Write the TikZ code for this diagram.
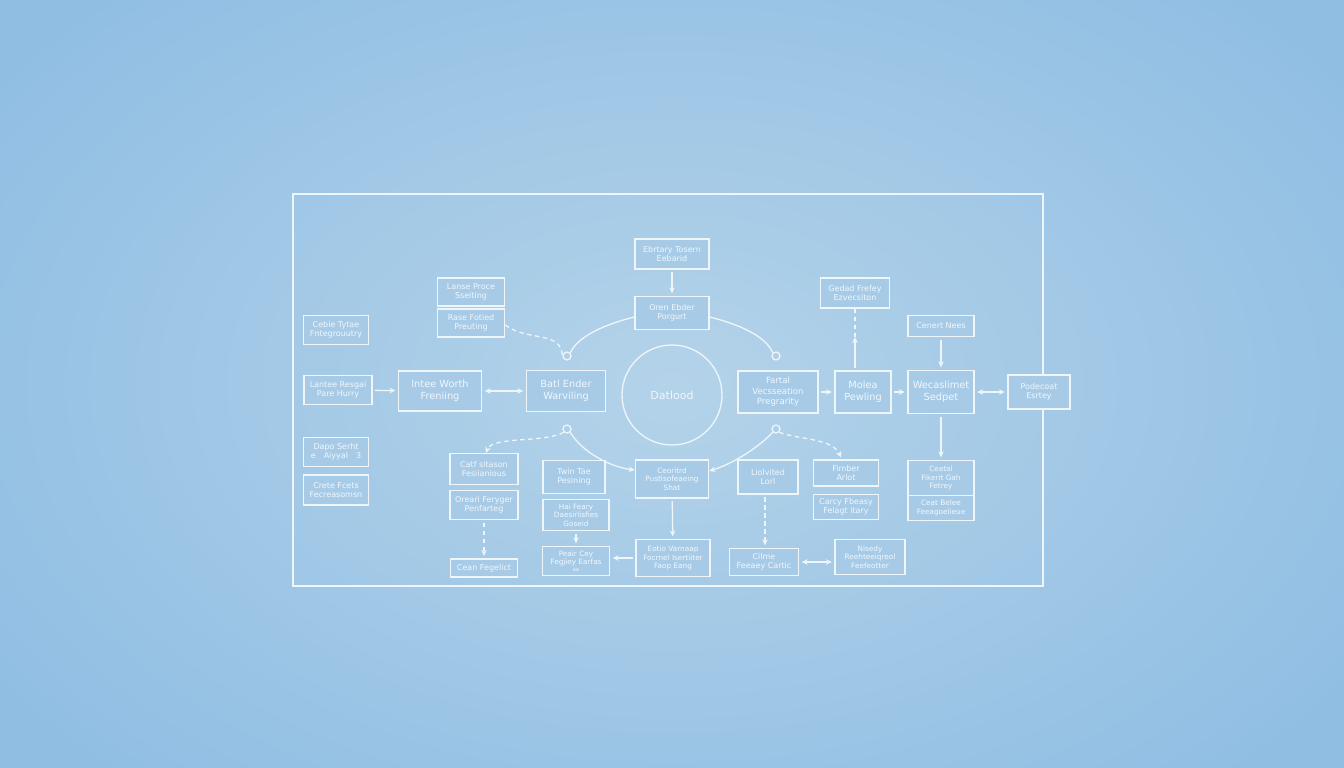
\documentclass[tikz,border=0pt]{standalone}
\usepackage{fontspec}
\setmainfont{DejaVu Sans}
\usetikzlibrary{arrows.meta}
\definecolor{bgin}{RGB}{180,211,233}
\definecolor{bgout}{RGB}{144,190,227}
\definecolor{bgbox}{RGB}{167,203,231}
\definecolor{lc}{RGB}{238,246,252}
\definecolor{tc}{RGB}{240,247,253}
\tikzset{
  box/.style={draw=lc, line width=1.3pt, fill=bgbox, text=tc, align=center, inner sep=1pt,
    font=\fontsize{8}{9.4}\selectfont},
  tbox/.style={box, font=\fontsize{7.3}{8.7}\selectfont},
  bigbox/.style={box, font=\fontsize{9.8}{12.4}\selectfont},
  loopc/.style={circle, draw=lc, line width=1.3pt, minimum size=8pt, inner sep=0pt},
  tip/.tip={Stealth[length=6pt,width=5.5pt]},
  arr/.style={draw=lc, line width=1.3pt, -tip, shorten >=2.5pt, shorten <=2.5pt},
  darr/.style={draw=lc, line width=1.3pt, tip-tip, shorten >=2.5pt, shorten <=2.5pt},
  dline/.style={draw=lc, line width=1.3pt, dash pattern=on 4.5pt off 3.5pt},
  conn/.style={draw=lc, line width=1.3pt},
}
\begin{document}
\begin{tikzpicture}[x=1pt,y=-1pt]
\useasboundingbox (0,0) rectangle (1344,768);
\shade[inner color=bgin, outer color=bgout] (-150,-150) rectangle (1494,918);
% frame
\draw[lc, line width=1.4pt] (293,194) rectangle (1043,586);

% top column
\node[box, minimum width=74, minimum height=30] (e1) at (672,254) {Ebrtary Tosern\\Eebarid};
\node[box, minimum width=74, minimum height=33] (e2) at (672,313) {Oren Ebder\\Porgurt};
\node[circle, draw=lc, line width=1.3pt, minimum size=100pt, text=tc, font=\fontsize{11}{12}\selectfont] (circ) at (672,395) {Datlood};

% left
\node[box, minimum width=67, minimum height=28] (a1) at (471,292) {Lanse Proce\\Sseiting};
\node[box, minimum width=67, minimum height=28] (a2) at (471,323) {Rase Fotied\\Preuting};
\node[box, minimum width=65, minimum height=29] (b1) at (336,330) {Cebie Tytae\\Fntegrouutry};
\node[box, minimum width=68, minimum height=29] (b2) at (338,390) {Lantee Resgai\\Pare Hurry};
\node[bigbox, minimum width=83, minimum height=40] (m1) at (440,391) {Intee Worth\\Freniing};
\node[bigbox, minimum width=79, minimum height=41] (m2) at (566,391) {Batl Ender\\Warviling};

% right
\node[bigbox, font=\fontsize{8.6}{10.6}\selectfont, minimum width=80, minimum height=42] (m3) at (778,392) {Fartal\\Vecsseation\\Pregrarity};
\node[bigbox, minimum width=56, minimum height=42] (m4) at (863,392) {Molea\\Pewling};
\node[box, minimum width=69, minimum height=30] (g) at (855,293) {Gedad Frefey\\Ezvecsiton};
\node[box, minimum width=66, minimum height=21] (cn) at (941,326) {Cenert Nees};
\node[bigbox, minimum width=66, minimum height=43] (m5) at (941,392) {Wecaslimet\\Sedpet};
\node[box, minimum width=62, minimum height=34] (m6) at (1039,392) {Podecoat\\Esrtey};

% lower left
\node[box, minimum width=65, minimum height=29] (d1) at (336,452) {Dapo Serht\\e\hspace{1em}Aiyyal\hspace{1em}3};
\node[box, minimum width=65, minimum height=30] (d2) at (336,490) {Crete Fcets\\Fecreasomsn};
\node[box, minimum width=68, minimum height=31] (c1) at (484,469) {Catf sitason\\Fesiianious};
\node[box, minimum width=68, minimum height=29] (c2) at (484,505) {Oreari Feryger\\Penfarteg};
\node[box, minimum width=67, minimum height=18] (c3) at (484,568) {Cean Fegelict};
\node[box, minimum width=62, minimum height=33] (t1) at (574,477) {Twin Tae\\Pesining};
\node[tbox, minimum width=66, minimum height=31] (t2) at (576,515) {Hai Feary\\Daesirlisfies\\Goseid};
\node[tbox, minimum width=67, minimum height=29] (t3) at (576,561) {Peair Cey\\Fegjiey Earfas\\[-2.5pt]{\fontsize{5}{5}\selectfont ae}};

% lower centre
\node[tbox, minimum width=73, minimum height=38] (k1) at (672,479) {Ceoritrd\\Pustlsofeaeing\\Shat};
\node[tbox, minimum width=74, minimum height=37] (k2) at (673,558) {Eotio Varnaap\\Focrnel Isertiiter\\Faop Eang};

% lower right
\node[box, minimum width=60, minimum height=34] (l1) at (768,477) {Liolvited\\Lorl};
\node[box, minimum width=69, minimum height=27] (l2) at (764,562) {Cilme\\Feeaey Cartic};
\node[box, minimum width=65, minimum height=26] (f1) at (846,473) {Fimber\\Arlot};
\node[box, minimum width=65, minimum height=25] (f2) at (846,507) {Carcy Fbeasy\\Felagt itary};
\node[tbox, minimum width=70, minimum height=35] (n1) at (870,557) {Nisedy\\Reehteeiqreol\\Feefeotter};
\node[tbox, minimum width=66, minimum height=35] (r1) at (941,478) {Ceatal\\Fikerit Gah\\Fetrey};
\node[tbox, minimum width=66, minimum height=25] (r2) at (941,508) {Ceat Belee\\Feeagoelieue};

% loops
\node[loopc] (L1) at (567,356) {};
\node[loopc] (L2) at (776,356) {};
\node[loopc] (L3) at (567,429) {};
\node[loopc] (L4) at (776,429) {};

% straight connectors
\draw[arr] (e1) -- (e2);
\draw[arr] (b2) -- (m1);
\draw[darr] (m1) -- (m2);
\draw[arr] (m3) -- (m4);
\draw[arr] (m4) -- (m5);
\draw[darr] (m5) -- (m6);
\draw[arr] (cn) -- (m5);
\draw[arr] (m5) -- (r1);
\draw[arr] (k1) -- (k2);
\draw[arr] (t2) -- (t3);
\draw[arr] (k2.west) -- (k2.west -| t3.east);
\draw[darr] (l2.east) -- (l2.east -| n1.west);
\draw[dline, -tip, shorten >=2.5pt, shorten <=2.5pt] (c2) -- (c3);
\coordinate (lx) at (765,0);
\draw[dline, -tip, shorten >=2.5pt, shorten <=2.5pt] (l1.south -| lx) -- (l2.north -| lx);
\coordinate (gm) at (855,337);
\draw[arr, shorten >=0pt] (m4.north -| gm) -- (gm);
\draw[dline] (gm) -- (g.south);

% curved connectors
\draw[conn] ([yshift=-4pt]e2.west) .. controls (606,324) and (578,336) .. (L1.north east);
\draw[conn] ([yshift=-4pt]e2.east) .. controls (738,324) and (766,336) .. (L2.north west);
\draw[dline] ([yshift=-2pt]a2.east) .. controls (528,342) and (561,330) .. (L1.west);
\draw[dline, -tip] (L3.south west) .. controls (545,443) and (492,436) .. ([xshift=2pt]c1.north);
\draw[conn, -tip] (L3.south east) .. controls (582,452) and (610,467) .. ([yshift=9pt]k1.west);
\draw[conn, -tip] (L4.south west) .. controls (760,446) and (735,463) .. ([yshift=8pt]k1.east);
\draw[dline, -tip] (L4.south east) .. controls (800,440) and (832,438) .. ([xshift=-5pt,yshift=2pt]f1.north);
\end{tikzpicture}
\end{document}
